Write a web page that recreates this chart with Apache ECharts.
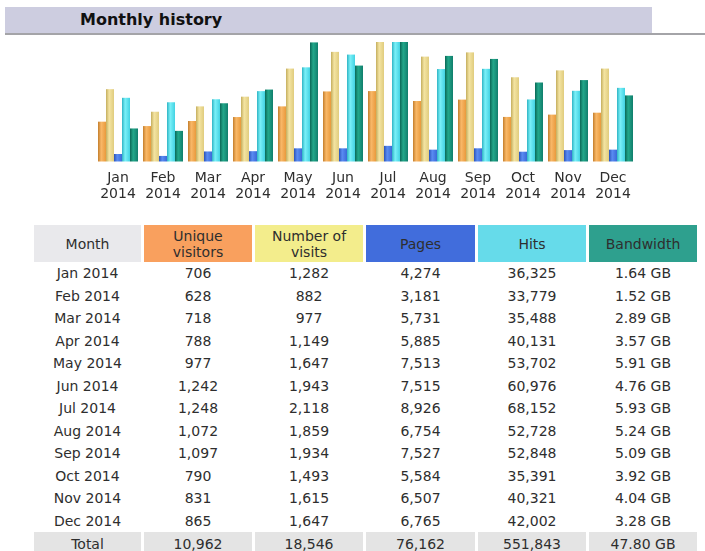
<!DOCTYPE html>
<html>
<head>
<meta charset="utf-8">
<script src="https://cdn.jsdelivr.net/npm/echarts@6/dist/echarts.min.js"></script>
<style>
body{margin:0;width:705px;height:551px;overflow:hidden;background:#fff;font-family:"DejaVu Sans",Verdana,sans-serif;}
#titlebar{position:absolute;left:5px;top:7px;width:647px;height:26px;background:#cdcde0;}
#titleline{position:absolute;left:5px;top:33px;width:700px;height:2px;background:#a4a4a8;}
#title{position:absolute;left:80px;top:10px;font-weight:bold;font-size:16px;color:#111;}
#chart{position:absolute;left:0;top:0;width:705px;height:215px;}
#tbl{position:absolute;left:31px;top:225px;border-collapse:separate;border-spacing:3px 0;font-size:14px;color:#2e2e2e;}
#tbl th{font-weight:normal;height:37px;line-height:16px;padding:0;text-align:center;}
#tbl td{height:22.5px;padding:0;text-align:center;}
#tbl tr.total td{background:#e4e4e4;height:24px;}
</style>
</head>
<body>
<div id="titlebar"></div>
<div id="titleline"></div>
<div id="title">Monthly history</div>
<div id="chart"></div>
<table id="tbl"></table>
<script>
var months = ['Jan','Feb','Mar','Apr','May','Jun','Jul','Aug','Sep','Oct','Nov','Dec'];
var year = '2014';
var visitors = [706,628,718,788,977,1242,1248,1072,1097,790,831,865];
var visits = [1282,882,977,1149,1647,1943,2118,1859,1934,1493,1615,1647];
var pages = [4274,3181,5731,5885,7513,7515,8926,6754,7527,5584,6507,6765];
var hits = [36325,33779,35488,40131,53702,60976,68152,52728,52848,35391,40321,42002];
var bandwidth = [1.64,1.52,2.89,3.57,5.91,4.76,5.93,5.24,5.09,3.92,4.04,3.28];
var totals = ['10,962','18,546','76,162','551,843','47.80 GB'];

var headers = ['Month','Unique<br>visitors','Number of<br>visits','Pages','Hits','Bandwidth'];
var headerColors = ['#e9e9ec','#f9a05e','#f3ed8c','#416ddc','#66dbea','#2ea08e'];
var headerWidths = [107,108,108,109,108,108];

function grad(c0,c1,c2){
	return new echarts.graphic.LinearGradient(0,0,1,0,[
		{offset:0,color:c0},{offset:0.4,color:c1},{offset:1,color:c2}
	]);
}

var chart = echarts.init(document.getElementById('chart'));

function barSeries(name,data,axis,color){
	return {
		name:name,
		type:'bar',
		yAxisIndex:axis,
		data:data,
		barWidth:8,
		barGap:'0%',
		itemStyle:{color:color},
		animation:false
	};
}

var option = {
	animation:false,
	grid:{left:95.5,right:69.5,top:42,bottom:53.5},
	xAxis:{
		type:'category',
		data:months,
		axisLine:{show:false},
		axisTick:{show:false},
		axisLabel:{
			interval:0,
			hideOverlap:false,
			color:'#2e2e2e',
			fontSize:14,
			fontFamily:'DejaVu Sans',
			lineHeight:16,
			margin:9,
			formatter:function(v){ return v + '\n' + year; }
		}
	},
	yAxis:[
		{type:'value',min:0,max:'dataMax',show:false,splitLine:{show:false}},
		{type:'value',min:0,max:'dataMax',show:false,splitLine:{show:false}},
		{type:'value',min:0,max:'dataMax',show:false,splitLine:{show:false}}
	],
	series:[
		barSeries('Unique visitors',visitors,0,grad('#c47e2c','#f9b868','#e99a3c')),
		barSeries('Number of visits',visits,0,grad('#c4ae5e','#f4e4a2','#e0cc7e')),
		barSeries('Pages',pages,1,grad('#2a52b8','#5a8cf2','#3a6ad8')),
		barSeries('Hits',hits,1,grad('#2eb4c4','#7af0f8','#42d2e2')),
		barSeries('Bandwidth',bandwidth,2,grad('#0a6856','#22a88a','#107e6c'))
	]
};
chart.setOption(option);

// table
var fmt = function(n){ return n.toLocaleString('en-US'); };
var html = '<tr>';
for (var i=0;i<headers.length;i++){
	html += '<th style="background:'+headerColors[i]+';width:'+headerWidths[i]+'px">'+headers[i]+'</th>';
}
html += '</tr>';
for (var m=0;m<months.length;m++){
	html += '<tr><td>'+months[m]+' '+year+'</td><td>'+fmt(visitors[m])+'</td><td>'+fmt(visits[m])+
		'</td><td>'+fmt(pages[m])+'</td><td>'+fmt(hits[m])+'</td><td>'+bandwidth[m].toFixed(2)+' GB</td></tr>';
}
html += '<tr class="total"><td>Total</td>';
for (var t=0;t<totals.length;t++){ html += '<td>'+totals[t]+'</td>'; }
html += '</tr>';
document.getElementById('tbl').innerHTML = html;
</script>
</body>
</html>
